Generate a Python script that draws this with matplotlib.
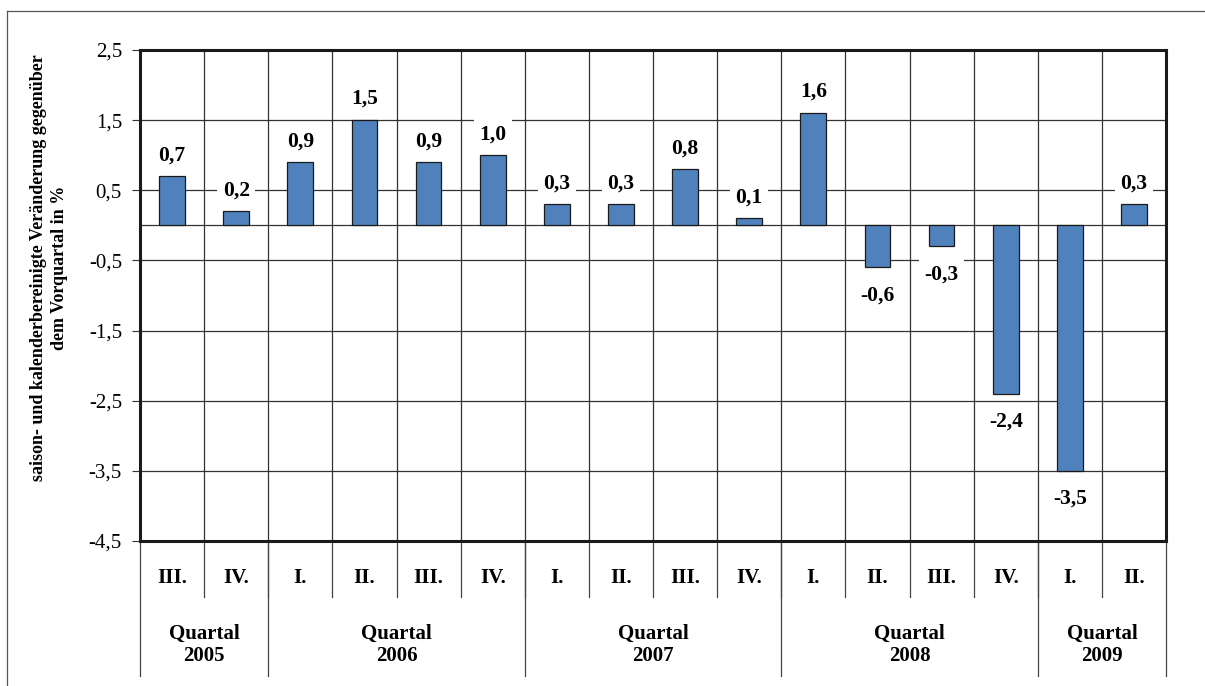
import matplotlib
matplotlib.use("Agg")
import matplotlib.pyplot as plt
from matplotlib.lines import Line2D

# Veränderung gegenüber Vorquartal (saison- und kalenderbereinigt)
quartale = ["III.", "IV.", "I.", "II.", "III.", "IV.", "I.", "II.", "III.", "IV.",
            "I.", "II.", "III.", "IV.", "I.", "II."]
werte = [0.7, 0.2, 0.9, 1.5, 0.9, 1.0, 0.3, 0.3, 0.8, 0.1, 1.6, -0.6, -0.3, -2.4, -3.5, 0.3]
jahre = ["2005", "2006", "2007", "2008", "2009"]
quartale_je_jahr = [2, 4, 4, 4, 2]
y_ticks = [2.5, 1.5, 0.5, -0.5, -1.5, -2.5, -3.5, -4.5]

plt.rcParams["font.family"] = ["Liberation Serif", "DejaVu Serif"]

fig = plt.figure(figsize=(12.05, 6.86), dpi=100)
W, H = 1205, 686
ax = fig.add_axes([140 / W, 1 - 541 / H, (1166 - 140) / W, (541 - 50) / H])

n = len(werte)
x = list(range(n))
ax.bar(x, werte, width=0.4, color="#4F81BD", edgecolor="#1a1a1a", linewidth=0.9, zorder=3)

ax.set_xlim(-0.5, n - 0.5)
ax.set_ylim(-4.5, 2.5)
ax.set_yticks(y_ticks)
ax.set_yticklabels([f"{t:.1f}".replace(".", ",") for t in y_ticks], fontsize=15)
ax.tick_params(axis="y", length=6, width=0.8, color="#333333", pad=7)
ax.set_xticks([])

# Gitter
for t in y_ticks + [0]:
    ax.axhline(t, color="#333333", linewidth=0.9, zorder=1)
for i in range(1, n):
    ax.axvline(i - 0.5, color="#333333", linewidth=0.9, zorder=1)

for s in ax.spines.values():
    s.set_linewidth(2.2)
    s.set_color("#1a1a1a")
    s.set_zorder(4)

# Wertbeschriftungen
for xi, v in zip(x, werte):
    off = 8 if v >= 0 else -13
    ax.annotate(f"{v:.1f}".replace(".", ","), (xi, v), xytext=(0, off),
                textcoords="offset points", ha="center",
                va="bottom" if v >= 0 else "top", fontsize=15.5, fontweight="bold",
                bbox=dict(boxstyle="square,pad=0.25", fc="white", ec="none"), zorder=5)

# Kategorienachse unterhalb der Grafik
trans = ax.get_xaxis_transform()
y_q_end = -(597 - 541) / 491
y_j_end = -(676 - 541) / 491
for xi, q in zip(x, quartale):
    ax.text(xi, -(578 - 541) / 491, q, transform=trans, ha="center", va="center",
            fontsize=15, fontweight="bold")

grenzen = [0]
for k in quartale_je_jahr:
    grenzen.append(grenzen[-1] + k)
for i in range(1, n):
    ax.plot([i - 0.5, i - 0.5], [0, y_q_end], transform=trans, color="#444444",
            linewidth=0.9, clip_on=False)
for g in grenzen:
    ax.plot([g - 0.5, g - 0.5], [0, y_j_end], transform=trans, color="#444444",
            linewidth=0.9, clip_on=False)
for j, jahr in enumerate(jahre):
    mitte = (grenzen[j] + grenzen[j + 1]) / 2 - 0.5
    ax.text(mitte, -(645 - 541) / 491, f"Quartal\n{jahr}", transform=trans,
            ha="center", va="center", fontsize=15, fontweight="bold", linespacing=1.1)

fig.text(49 / W, 1 - 268 / H,
         "saison- und kalenderbereinigte Veränderung gegenüber\ndem Vorquartal in %",
         rotation=90, ha="center", va="center", fontsize=13, fontweight="bold",
         linespacing=1.25)

# Rahmen
fig.add_artist(Line2D([7 / W, 1], [1 - 11 / H, 1 - 11 / H], transform=fig.transFigure,
                      color="#555555", linewidth=0.9))
fig.add_artist(Line2D([7 / W, 7 / W], [0, 1 - 11 / H], transform=fig.transFigure,
                      color="#555555", linewidth=0.9))

fig.savefig("out.png", dpi=100)
